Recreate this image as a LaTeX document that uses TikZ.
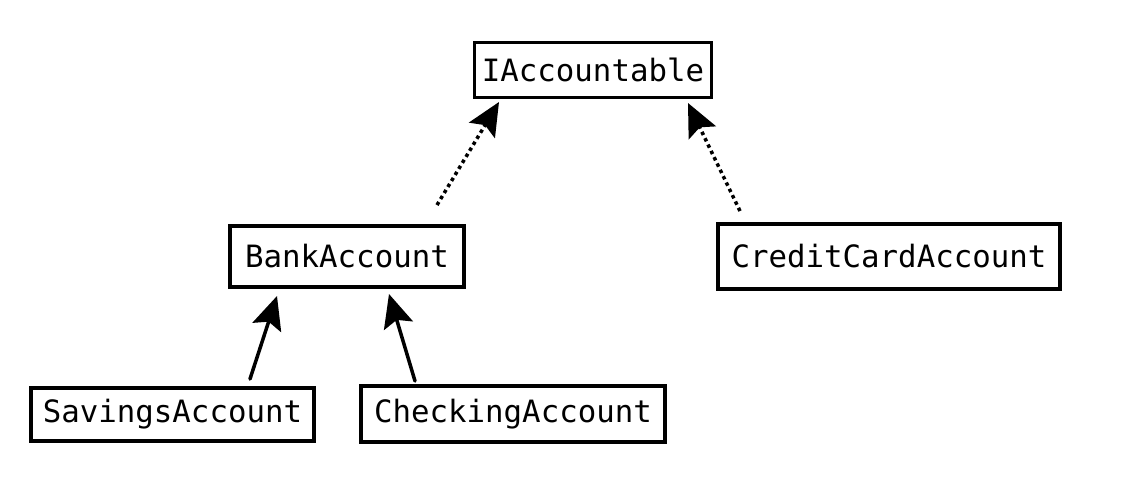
\documentclass[tikz,border=0pt]{standalone}
\usepackage{fontspec}
\setmonofont{DejaVu Sans Mono}
\usetikzlibrary{arrows.meta}

\begin{document}
\begin{tikzpicture}[x=0.02cm,y=-0.02cm,>={Stealth[length=0.66cm,width=0.6cm,inset=0.12cm]},
  font=\ttfamily\fontsize{17.5}{20}\selectfont,
  cls/.style={draw,line width=2.2pt,inner sep=0pt,minimum height=1.1cm},
  impl/.style={->,line width=2pt,dotted},
  inh/.style={->,line width=2pt}]
\useasboundingbox (0,0) rectangle (1123,481);
% classes
\node[cls,minimum width=4.74cm] (iacc) at (593,70) {IAccountable};
\node[cls,minimum width=4.68cm,minimum height=1.22cm] (bank) at (347,256.5) {BankAccount};
\node[cls,minimum width=6.84cm,minimum height=1.3cm] (credit) at (889,256.5) {CreditCardAccount};
\node[cls,minimum width=5.66cm,minimum height=1.06cm] (sav) at (172.5,414.5) {SavingsAccount};
\node[cls,minimum width=6.08cm,minimum height=1.12cm] (chk) at (513,414) {CheckingAccount};
% free ends of the arrows
\coordinate (bankup) at (437,205);
\coordinate (creditup) at (740,211);
\coordinate (savup) at (250,379);
\coordinate (chkup) at (415,381);
\coordinate (iaccl) at (499,102);
\coordinate (iaccr) at (688,103);
\coordinate (bankl) at (277,296);
\coordinate (bankr) at (389,294);
% realisation and inheritance
\draw[impl] (bankup) -- (iaccl);
\draw[impl] (creditup) -- (iaccr);
\draw[inh,line cap=round] (savup) -- (bankl);
\draw[inh,line cap=round] (chkup) -- (bankr);
\end{tikzpicture}
\end{document}
